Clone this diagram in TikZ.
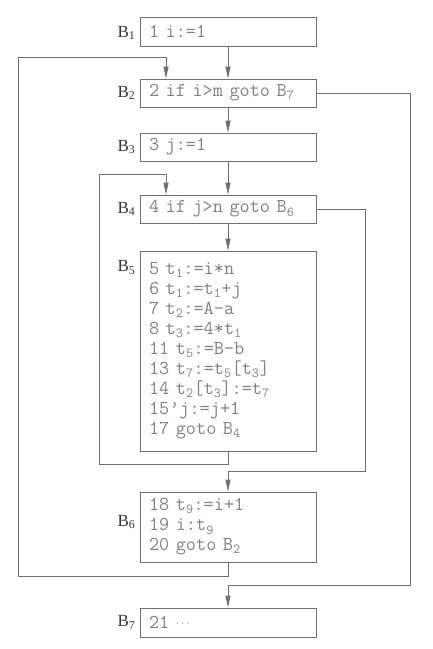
\documentclass[tikz,border=0pt]{standalone}
\usepackage{fontspec}
\setmainfont{Liberation Serif}
\usetikzlibrary{arrows.meta}
\definecolor{linec}{RGB}{112,112,112}
\definecolor{codec}{RGB}{130,130,130}
\definecolor{labc}{RGB}{55,55,55}
\newcommand{\sbs}[1]{\textsubscript{#1}}
\begin{document}
\begin{tikzpicture}[x=1pt,y=-1pt,
  blk/.style={draw=linec, line width=0.8pt, rectangle, text width=158pt, inner xsep=9pt, inner ysep=0pt,
    align=left, text=codec, font={\fontsize{19.7}{20}\selectfont\ttfamily}},
  blab/.style={anchor=east, inner sep=0pt, text=labc, font={\fontsize{17}{19}\selectfont}},
  conn/.style={draw=linec, line width=0.8pt},
  arr/.style={conn, -{Triangle[length=12pt,width=5pt]}, color=linec}]
\useasboundingbox (0,0) rectangle (432,649);
\node[blk, minimum height=29pt] (B1) at (228,31.5) {1 i:=1};
\node[blk, minimum height=28pt] (B2) at (228,93) {2~if~i>m~goto~B\sbs{7}};
\node[blk, minimum height=28pt] (B3) at (228,147) {3 j:=1};
\node[blk, minimum height=28pt] (B4) at (228,209) {4~if~j>n~goto~B\sbs{6}};
\node[blk, minimum height=200pt] (B5) at (228,351) {5 t\sbs{1}:=i*n\\6 t\sbs{1}:=t\sbs{1}+j\\7 t\sbs{2}:=A-a\\8 t\sbs{3}:=4*t\sbs{1}\\11 t\sbs{5}:=B-b\\13 t\sbs{7}:=t\sbs{5}[t\sbs{3}]\\14 t\sbs{2}[t\sbs{3}]:=t\sbs{7}\\15’j:=j+1\\17 goto B\sbs{4}};
\node[blk, minimum height=70pt] (B6) at (228,527) {18 t\sbs{9}:=i+1\\19 i:t\sbs{9}\\20 goto B\sbs{2}};
\node[blk, minimum height=29pt] (B7) at (228,622.5) {21 \raisebox{2pt}{\fontsize{13}{14}\selectfont\ensuremath{\cdots}}};
\node[blab] (L1) at ([xshift=-4pt,yshift=-1.5pt]B1.west) {B\sbs{1}};
\node[blab] (L2) at ([xshift=-4pt]B2.west) {B\sbs{2}};
\node[blab] (L3) at ([xshift=-4pt]B3.west) {B\sbs{3}};
\node[blab] (L4) at ([xshift=-4pt]B4.west) {B\sbs{4}};
\node[blab] (L5) at ([xshift=-4pt,yshift=-17pt]B5.north west) {B\sbs{5}};
\node[blab] (L6) at ([xshift=-4pt,yshift=5pt]B6.west) {B\sbs{6}};
\node[blab] (L7) at ([xshift=-4pt]B7.west) {B\sbs{7}};
\draw[arr] (B1) -- (B2);
\draw[arr] (B2) -- (B3);
\draw[arr] (B3) -- (B4);
\draw[arr] (B4) -- (B5);
\draw[arr] (B6.south) -- ++(0,14) -| (18,57) -| ([xshift=-62pt]B2.north);
\draw[arr] (B5.south) -- ++(0,13) -| (99,174) -| ([xshift=-62pt]B4.north);
\draw[arr] (B4.east) -| (365,471) -| (B6.north);
\draw[arr] (B2.east) -| (410,585) -| (B7.north);
\end{tikzpicture}
\end{document}
